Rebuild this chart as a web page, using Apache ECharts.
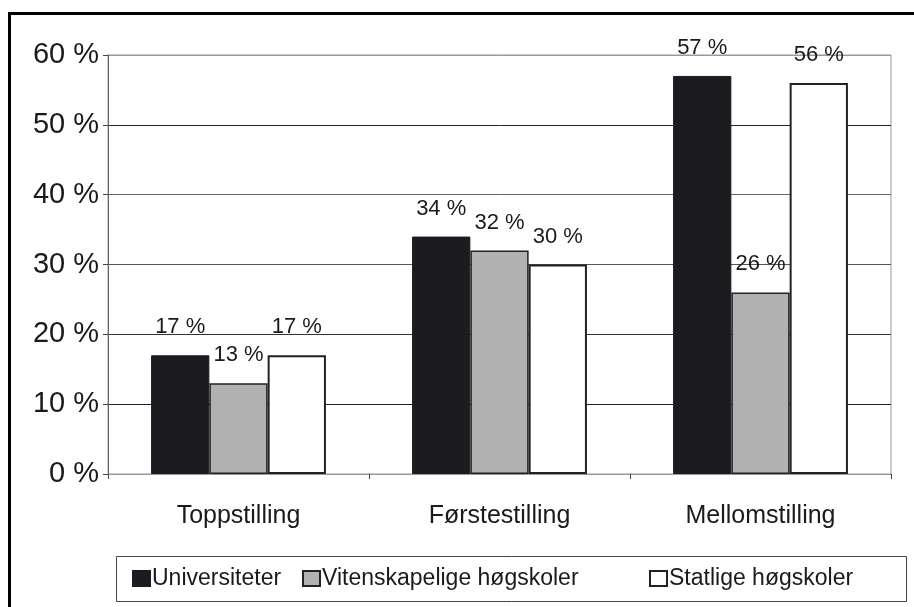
<!DOCTYPE html>
<html>
<head>
<meta charset="utf-8">
<script src="https://cdn.jsdelivr.net/npm/echarts@6/dist/echarts.min.js"></script>
<style>
  html, body { margin: 0; padding: 0; background: #fff; }
  #main { width: 914px; height: 607px; }
</style>
</head>
<body>
<div id="main"></div>
<script>
(function () {
    'use strict';

    var categories = ['Toppstilling', 'Førstestilling', 'Mellomstilling'];
    var seriesNames = ['Universiteter', 'Vitenskapelige høgskoler', 'Statlige høgskoler'];
    var universiteter = [17, 34, 57];
    var vitenskapelige = [13, 32, 26];
    var statlige = [17, 30, 56];
    var yTicks = [0, 10, 20, 30, 40, 50, 60];

    var font = '"Liberation Sans", Arial, sans-serif';
    var dom = document.getElementById('main');
    var myChart = echarts.init(dom);

    function labelCfg() {
        return {
            show: true,
            position: 'top',
            distance: 17,
            formatter: '{c} %',
            color: '#1a1a1a',
            fontFamily: font,
            fontSize: 22
        };
    }

    // one legend per series so each entry sits where the original has it
    var legendLefts = [132, 302, 649];
    var legends = seriesNames.map(function (name, i) {
        return {
            data: [name],
            left: legendLefts[i],
            top: 567,
            padding: 0,
            itemWidth: 17,
            itemHeight: 15,
            icon: 'rect',
            textStyle: { fontFamily: font, fontSize: 23, color: '#1a1a1a', padding: [0, 0, 0, -3] }
        };
    });

    var option = {
        animation: false,
        backgroundColor: '#fff',
        graphic: [
            {
                type: 'rect',
                shape: { x: 9.5, y: 13.5, width: 1000, height: 1000 },
                style: { fill: 'none', stroke: '#000', lineWidth: 3 },
                silent: true
            },
            {
                type: 'rect',
                shape: { x: 116.5, y: 556.5, width: 790, height: 45 },
                style: { fill: 'none', stroke: '#444', lineWidth: 1 },
                silent: true
            }
        ],
        grid: {
            left: 108,
            right: 23,
            top: 55,
            bottom: 133,
            show: true,
            borderColor: '#999',
            borderWidth: 1
        },
        legend: legends,
        xAxis: {
            type: 'category',
            data: categories,
            axisLine: { show: true, lineStyle: { color: '#999', width: 1 } },
            axisTick: { show: true, length: 5, lineStyle: { color: '#444' } },
            axisLabel: { fontFamily: font, fontSize: 25, color: '#1a1a1a', margin: 30 }
        },
        yAxis: {
            type: 'value',
            min: 0,
            max: yTicks[yTicks.length - 1],
            interval: 10,
            axisLine: { show: true, lineStyle: { color: '#666', width: 1 } },
            axisTick: { show: true, length: 5, lineStyle: { color: '#444' } },
            axisLabel: {
                fontFamily: font,
                fontSize: 29,
                color: '#1a1a1a',
                margin: 9,
                formatter: '{value} %'
            },
            splitLine: {
                show: true,
                lineStyle: { color: ['#999', '#222', '#333', '#555', '#666', '#222', '#999'], width: 1 }
            }
        },
        series: [
            {
                name: seriesNames[0],
                type: 'bar',
                data: universiteter,
                barGap: '0%',
                barCategoryGap: '33%',
                itemStyle: { color: '#1c1b1f', borderColor: '#1c1b1f', borderWidth: 1 },
                label: labelCfg()
            },
            {
                name: seriesNames[1],
                type: 'bar',
                data: vitenskapelige,
                itemStyle: { color: '#b1b1b1', borderColor: '#222', borderWidth: 1.5 },
                label: labelCfg()
            },
            {
                name: seriesNames[2],
                type: 'bar',
                data: statlige,
                itemStyle: { color: '#fff', borderColor: '#222', borderWidth: 2 },
                label: labelCfg()
            }
        ]
    };
    myChart.setOption(option, true);
}());
</script>
</body>
</html>
